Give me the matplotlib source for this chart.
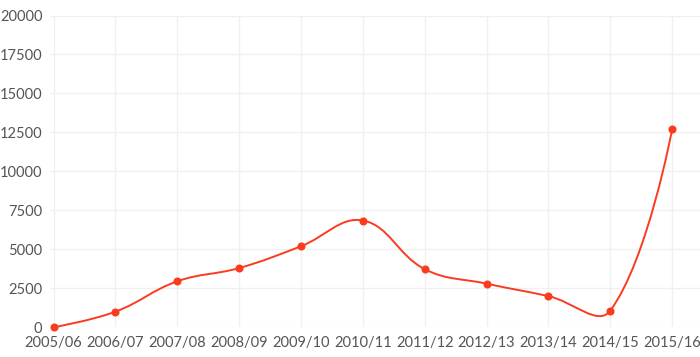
import matplotlib
matplotlib.use("Agg")
import matplotlib.pyplot as plt
import numpy as np
from matplotlib.path import Path
from matplotlib.patches import PathPatch

plt.rcParams['font.family'] = ['Lato', 'DejaVu Sans']

seasons = ["2005/06", "2006/07", "2007/08", "2008/09", "2009/10", "2010/11",
           "2011/12", "2012/13", "2013/14", "2014/15", "2015/16"]
values = [0, 1000, 2950, 3800, 5200, 6850, 3730, 2800, 2000, 1070, 12700]
y_ticks = [0, 2500, 5000, 7500, 10000, 12500, 15000, 17500, 20000]

line_color = "#fb3b1e"
grid_color = "#f0f0f0"
text_color = "#555555"

fig = plt.figure(figsize=(7, 3.57), dpi=100)
ax = fig.add_axes([53.5 / 700, (357 - 327.3) / 357, 1 - 53.5 / 700, (327.3 - 15.5) / 357])

x = np.arange(len(seasons))
ax.set_xlim(0, 10.45)
ax.set_ylim(0, 20000)
ax.set_xticks(x)
ax.set_xticklabels(seasons)
ax.set_yticks(y_ticks)

ax.grid(True, color=grid_color, linewidth=1)
ax.set_axisbelow(True)
for s in ax.spines.values():
    s.set_visible(False)
ax.tick_params(axis='y', length=3, width=1, color=grid_color, pad=5,
               labelsize=10.5, labelcolor=text_color)
ax.tick_params(axis='x', length=0, pad=6, labelsize=10.5, labelcolor=text_color)

# smooth curve (chart.js style spline, tension 0.4), computed in pixel space
fig.canvas.draw()
pts = ax.transData.transform(np.column_stack([x, values]))
bbox = ax.bbox
tension = 0.4
n = len(pts)
cp_in = pts.copy()
cp_out = pts.copy()
for i in range(1, n - 1):
    prev, cur, nxt = pts[i - 1], pts[i], pts[i + 1]
    d01 = np.hypot(*(cur - prev))
    d12 = np.hypot(*(nxt - cur))
    s01 = d01 / (d01 + d12)
    s12 = d12 / (d01 + d12)
    cp_in[i] = cur - tension * s01 * (nxt - prev)
    cp_out[i] = cur + tension * s12 * (nxt - prev)
for arr in (cp_in, cp_out):
    arr[:, 0] = np.clip(arr[:, 0], bbox.x0, bbox.x1)
    arr[:, 1] = np.clip(arr[:, 1], bbox.y0, bbox.y1)

verts = [pts[0]]
codes = [Path.MOVETO]
for i in range(n - 1):
    verts += [cp_out[i], cp_in[i + 1], pts[i + 1]]
    codes += [Path.CURVE4] * 3
inv = ax.transData.inverted()
path = Path(inv.transform(np.array(verts)), codes)
ax.add_patch(PathPatch(path, facecolor='none', edgecolor=line_color, linewidth=1.4,
                       zorder=3, clip_on=False))

ax.plot(x, values, linestyle='none', marker='o', markersize=4.8,
        color=line_color, zorder=4, clip_on=False)

fig.savefig("out.png", dpi=100)
